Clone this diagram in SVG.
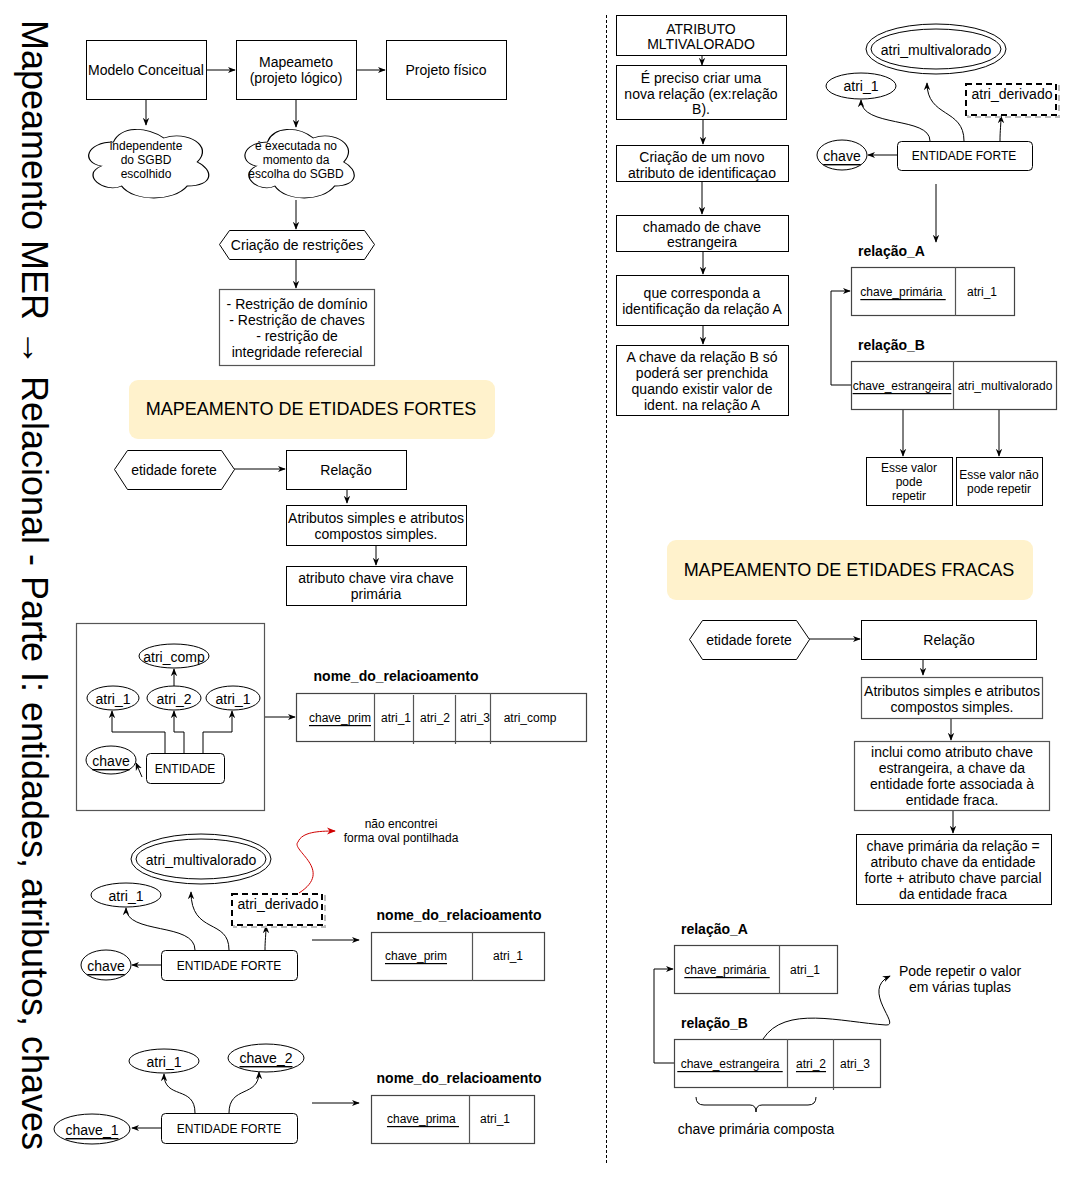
<svg xmlns="http://www.w3.org/2000/svg" width="1069" height="1177" viewBox="0 0 1069 1177">
  <style>
    text { font-family: "Liberation Sans", Arial, sans-serif; fill: #000; text-anchor: middle; dominant-baseline: central; }
    .t14 { font-size: 14px; }
    .t12 { font-size: 12px; }
    .t18 { font-size: 18px; }
    .b14 { font-size: 14px; font-weight: bold; }
    .left { text-anchor: start; }
    .u { text-decoration: underline; }
    .box { fill: #fff; stroke: #000; stroke-width: 1; }
    .gbox { fill: #fff; stroke: #555; stroke-width: 1.2; }
    .tbl { fill: #fff; stroke: #444; stroke-width: 1.2; }
    .div { stroke: #555; stroke-width: 1.2; }
    .ell { fill: #fff; stroke: #000; stroke-width: 1; }
    .banner { fill: #fff2cc; stroke: none; }
    .edge { fill: none; stroke: #000; stroke-width: 1; marker-end: url(#arr); }
    .line { fill: none; stroke: #000; stroke-width: 1; }
    .dash { fill: #fff; stroke: #000; stroke-width: 2; stroke-dasharray: 6 4; }
    .dashsh { fill: none; stroke: #bbb; stroke-width: 2; stroke-dasharray: 6 4; }
    .cloud { fill: #fff; stroke: #000; stroke-width: 1; }
  </style>
  <defs>
    <marker id="arr" viewBox="0 0 10 10" refX="9" refY="5" markerWidth="8" markerHeight="8" orient="auto" markerUnits="userSpaceOnUse">
      <path d="M0,1 L10,5 L0,9 L3,5 z" fill="#000"/>
    </marker>
    <marker id="arrRed" viewBox="0 0 10 10" refX="9" refY="5" markerWidth="9" markerHeight="9" orient="auto" markerUnits="userSpaceOnUse">
      <path d="M0,1 L10,5 L0,9 L3,5 z" fill="#d00000"/>
    </marker>
    <!-- unit cloud outline, scaled per node -->
    <path id="cloudShape" d="M0.25,0.25 C0.05,0.25 0,0.5 0.16,0.55 C0,0.66 0.18,0.9 0.31,0.8 C0.4,1 0.7,1 0.8,0.8 C1,0.8 1,0.6 0.875,0.5 C1,0.3 0.8,0.1 0.625,0.2 C0.5,0.05 0.3,0.05 0.25,0.25 Z"/>
  </defs>

  <!-- vertical title -->
  <text class="left" transform="translate(22,20) rotate(90)" x="0" y="0" style="font-size:36px;dominant-baseline:alphabetic" textLength="1130" lengthAdjust="spacing">Mapeamento MER → Relacional - Parte I: entidades, atributos, chaves</text>

  <!-- column separator -->
  <line x1="606.5" y1="15" x2="606.5" y2="1165" stroke="#000" stroke-width="1" stroke-dasharray="3 2"/>

  <!-- ===== connectors ===== -->
  <g id="connectors">
    <!-- top flow -->
    <path class="edge" d="M206,70 L235,70"/>
    <path class="edge" d="M356,70 L385,70"/>
    <path class="edge" d="M146,99 L146,125"/>
    <path class="edge" d="M296,99 L296,127"/>
    <path class="edge" d="M296,200 L296,229"/>
    <path class="edge" d="M296,259 L296,288"/>
    <!-- strong entity flow -->
    <path class="edge" d="M234,469 L285,469"/>
    <path class="edge" d="M347,489 L347,503"/>
    <path class="edge" d="M376,545 L376,565"/>
    <!-- ENTIDADE diagram -->
    <path class="edge" d="M165,753 L165,732 L112,732 L112,711"/>
    <path class="edge" d="M184,753 L184,732 L174,732 L174,711"/>
    <path class="edge" d="M203,753 L203,732 L232,732 L232,711"/>
    <path class="edge" d="M174,686 L174,669"/>
    <path class="edge" d="M142,777 L136,763"/>
    <path class="edge" d="M264,717 L295,717"/>
    <!-- multivalued / derived (left) -->
    <path class="edge" d="M195,950 C195,922 126,935 126,908"/>
    <path class="edge" d="M229,950 C229,918 191,935 191,892"/>
    <path class="edge" d="M265,950 C265,940 266,935 266,926"/>
    <path class="edge" d="M161,965 L132,965"/>
    <path class="edge" d="M312,940 L359,940"/>
    <path d="M299,893 C335,870 290,850 298,842 C302,832 318,831 335,831" fill="none" stroke="#d00000" stroke-width="1" marker-end="url(#arrRed)"/>
    <!-- composite key (left) -->
    <path class="edge" d="M195,1113 C195,1085 164,1100 164,1074"/>
    <path class="edge" d="M229,1113 C229,1085 259,1098 259,1072"/>
    <path class="edge" d="M161,1128 L132,1128"/>
    <path class="edge" d="M312,1103 L359,1103"/>
    <!-- multivalued flow (right) -->
    <path class="edge" d="M702,55 L702,65"/>
    <path class="edge" d="M703,119 L703,144"/>
    <path class="edge" d="M702,181 L702,214"/>
    <path class="edge" d="M703,251 L703,274"/>
    <path class="edge" d="M703,325 L703,344"/>
    <!-- ER top-right -->
    <path class="edge" d="M930,141 C930,116 861,128 861,100"/>
    <path class="edge" d="M964,141 C964,108 927,118 927,83"/>
    <path class="edge" d="M1000,141 C1000,130 1001,125 1001,116"/>
    <path class="edge" d="M897,155 L868,155"/>
    <path class="edge" d="M936,184 L936,242"/>
    <path class="edge" d="M851,385 L831,385 L831,291 L850,291"/>
    <path class="edge" d="M903,409 L903,456"/>
    <path class="edge" d="M999,409 L999,456"/>
    <!-- weak entity flow -->
    <path class="edge" d="M809,639 L860,639"/>
    <path class="edge" d="M923,659 L923,675"/>
    <path class="edge" d="M951,718 L951,740"/>
    <path class="edge" d="M953,810 L953,833"/>
    <!-- weak relations -->
    <path class="edge" d="M674,1063 L654,1063 L654,969 L673,969"/>
    <path class="edge" d="M763,1039 C785,1005 840,1022 886,1025 C902,1026 860,990 890,976"/>
  </g>

  <!-- ===== top flow nodes ===== -->
  <g id="modelo-conceitual">
    <rect class="box" x="86.5" y="40.5" width="120" height="59"/>
    <text class="t14" x="146" y="70">Modelo Conceitual</text>
  </g>
  <g id="mapeamento">
    <rect class="box" x="236.5" y="40.5" width="120" height="59"/>
    <text class="t14" x="296" y="62">Mapeameto</text>
    <text class="t14" x="296" y="78">(projeto lógico)</text>
  </g>
  <g id="projeto-fisico">
    <rect class="box" x="386.5" y="40.5" width="120" height="59"/>
    <text class="t14" x="446" y="70">Projeto físico</text>
  </g>
  <g id="cloud-independente">
    <use href="#cloudShape" class="cloud" transform="translate(80,122) scale(134,80)" vector-effect="non-scaling-stroke" style="stroke-width:0.0095"/>
    <text class="t12" x="146" y="146">independente</text>
    <text class="t12" x="146" y="160">do SGBD</text>
    <text class="t12" x="146" y="174">escolhido</text>
  </g>
  <g id="cloud-executada">
    <use href="#cloudShape" class="cloud" transform="translate(237,122) scale(122,80)" style="stroke-width:0.0095"/>
    <text class="t12" x="296" y="146">é executada no</text>
    <text class="t12" x="296" y="160">momento da</text>
    <text class="t12" x="296" y="174">escolha do SGBD</text>
  </g>
  <g id="criacao-restricoes">
    <polygon class="box" points="219.5,244.5 229.5,230.5 364.5,230.5 374.5,244.5 364.5,259.5 229.5,259.5"/>
    <text class="t14" x="297" y="245">Criação de restrições</text>
  </g>
  <g id="restricoes">
    <rect class="gbox" x="219.5" y="289.5" width="155" height="76"/>
    <text class="t14" x="297" y="304">- Restrição de domínio</text>
    <text class="t14" x="297" y="320">- Restrição de chaves</text>
    <text class="t14" x="297" y="336">- restrição de</text>
    <text class="t14" x="297" y="352">integridade referecial</text>
  </g>

  <!-- ===== strong entities ===== -->
  <g id="banner-fortes">
    <rect class="banner" x="129" y="380" width="366" height="59" rx="9"/>
    <text class="t18" x="311" y="409">MAPEAMENTO DE ETIDADES FORTES</text>
  </g>
  <g id="etidade-forete-1">
    <polygon class="box" points="114.5,469.5 127.5,450.5 221.5,450.5 234.5,469.5 221.5,489.5 127.5,489.5"/>
    <text class="t14" x="174" y="470">etidade forete</text>
  </g>
  <g id="relacao-1">
    <rect class="box" x="286.5" y="450.5" width="120" height="39"/>
    <text class="t14" x="346" y="470">Relação</text>
  </g>
  <g id="atributos-simples-1">
    <rect class="box" x="286.5" y="505.5" width="180" height="40"/>
    <text class="t14" x="376" y="518">Atributos simples e atributos</text>
    <text class="t14" x="376" y="534">compostos simples.</text>
  </g>
  <g id="chave-primaria-1">
    <rect class="box" x="286.5" y="566.5" width="180" height="39"/>
    <text class="t14" x="376" y="578">atributo chave vira chave</text>
    <text class="t14" x="376" y="594">primária</text>
  </g>

  <!-- ===== ENTIDADE example ===== -->
  <g id="entidade-container">
    <rect fill="none" stroke="#555" stroke-width="1.2" x="76.5" y="623.5" width="188" height="187"/>
  </g>
  <g id="atri-comp">
    <ellipse class="ell" cx="174" cy="656" rx="35" ry="12"/>
    <text class="t14" x="174" y="657">atri_comp</text>
  </g>
  <g id="atri-1-a">
    <ellipse class="ell" cx="113" cy="698" rx="26" ry="12"/>
    <text class="t14" x="113" y="699">atri_1</text>
  </g>
  <g id="atri-2-a">
    <ellipse class="ell" cx="174" cy="698" rx="27" ry="12"/>
    <text class="t14" x="174" y="699">atri_2</text>
  </g>
  <g id="atri-1-b">
    <ellipse class="ell" cx="233" cy="698" rx="27" ry="12"/>
    <text class="t14" x="233" y="699">atri_1</text>
  </g>
  <g id="chave-a">
    <ellipse class="ell" cx="111" cy="760" rx="25" ry="14"/>
    <text class="t14 u" x="111" y="761">chave</text>
  </g>
  <g id="entidade">
    <rect class="box" x="146.5" y="753.5" width="78" height="30" rx="4"/>
    <text class="t12" x="185" y="769">ENTIDADE</text>
  </g>
  <g id="tabela-1">
    <text class="b14" x="396" y="676">nome_do_relacioamento</text>
    <rect class="tbl" x="296.5" y="693.5" width="290" height="48"/>
    <line class="div" x1="374.5" y1="693" x2="374.5" y2="742"/>
    <line class="div" x1="413.5" y1="695" x2="413.5" y2="744"/>
    <line class="div" x1="455.5" y1="695" x2="455.5" y2="744"/>
    <line class="div" x1="490.5" y1="693" x2="490.5" y2="744"/>
    <text class="t12 u" x="340" y="718">chave_prim</text>
    <text class="t12" x="396" y="718">atri_1</text>
    <text class="t12" x="435" y="718">atri_2</text>
    <text class="t12" x="475" y="718">atri_3</text>
    <text class="t12" x="530" y="718">atri_comp</text>
  </g>

  <!-- ===== multivalued / derived example (left) ===== -->
  <g id="atri-multivalorado-l">
    <ellipse class="ell" cx="201" cy="859" rx="70" ry="25"/>
    <ellipse class="ell" cx="201" cy="859" rx="65" ry="20"/>
    <text class="t14" x="201" y="860">atri_multivalorado</text>
  </g>
  <g id="atri-1-l">
    <ellipse class="ell" cx="126" cy="895" rx="35" ry="12"/>
    <text class="t14" x="126" y="896">atri_1</text>
  </g>
  <g id="atri-derivado-l">
    <rect class="dashsh" x="234" y="896" width="91" height="31"/>
    <rect class="dash" x="232" y="894" width="90" height="31"/>
    <text class="t14" x="278" y="904">atri_derivado</text>
  </g>
  <g id="chave-l">
    <ellipse class="ell" cx="106" cy="965" rx="25" ry="15"/>
    <text class="t14 u" x="106" y="966">chave</text>
  </g>
  <g id="entidade-forte-l">
    <rect class="box" x="161.5" y="950.5" width="136" height="30" rx="4"/>
    <text class="t12" x="229" y="966">ENTIDADE FORTE</text>
  </g>
  <g id="nota-oval">
    <text class="t12" x="401" y="824">não encontrei</text>
    <text class="t12" x="401" y="838">forma oval pontilhada</text>
  </g>
  <g id="tabela-2">
    <text class="b14" x="459" y="915">nome_do_relacioamento</text>
    <rect class="tbl" x="371.5" y="932.5" width="173" height="48"/>
    <line class="div" x1="472.5" y1="932" x2="472.5" y2="981"/>
    <text class="t12 u" x="416" y="956">chave_prim</text>
    <text class="t12" x="508" y="956">atri_1</text>
  </g>

  <!-- ===== composite key example (left) ===== -->
  <g id="atri-1-c">
    <ellipse class="ell" cx="164" cy="1061" rx="35" ry="12"/>
    <text class="t14" x="164" y="1062">atri_1</text>
  </g>
  <g id="chave-2">
    <ellipse class="ell" cx="266" cy="1058" rx="38" ry="14"/>
    <text class="t14 u" x="266" y="1058">chave_2</text>
  </g>
  <g id="chave-1">
    <ellipse class="ell" cx="92" cy="1129" rx="38" ry="15"/>
    <text class="t14 u" x="92" y="1130">chave_1</text>
  </g>
  <g id="entidade-forte-c">
    <rect class="box" x="161.5" y="1113.5" width="136" height="30" rx="4"/>
    <text class="t12" x="229" y="1129">ENTIDADE FORTE</text>
  </g>
  <g id="tabela-3">
    <text class="b14" x="459" y="1078">nome_do_relacioamento</text>
    <rect class="tbl" x="371.5" y="1095.5" width="163" height="48"/>
    <line class="div" x1="469.5" y1="1095" x2="469.5" y2="1144"/>
    <text class="t12 u" x="423" y="1119" style="white-space:pre">chave_prima </text>
    <text class="t12" x="495" y="1119">atri_1</text>
  </g>

  <!-- ===== multivalued attribute flow (right) ===== -->
  <g id="atributo-mltivalorado">
    <rect class="box" x="616.5" y="15.5" width="170" height="40"/>
    <text class="t14" x="701" y="29">ATRIBUTO</text>
    <text class="t14" x="701" y="44">MLTIVALORADO</text>
  </g>
  <g id="criar-relacao">
    <rect class="box" x="616.5" y="65.5" width="170" height="54"/>
    <text class="t14" x="701" y="78">É preciso criar uma</text>
    <text class="t14" x="701" y="94">nova relação (ex:relação</text>
    <text class="t14" x="701" y="109">B).</text>
  </g>
  <g id="novo-atributo">
    <rect class="box" x="616.5" y="145.5" width="172" height="36"/>
    <text class="t14" x="702" y="157">Criação de um novo</text>
    <text class="t14" x="702" y="173">atributo de identificaçao</text>
  </g>
  <g id="chave-estrangeira">
    <rect class="box" x="616.5" y="215.5" width="172" height="36"/>
    <text class="t14" x="702" y="227">chamado de chave</text>
    <text class="t14" x="702" y="242">estrangeira</text>
  </g>
  <g id="corresponda">
    <rect class="box" x="616.5" y="275.5" width="172" height="50"/>
    <text class="t14" x="702" y="293">que corresponda a</text>
    <text class="t14" x="702" y="309">identificação da relação A</text>
  </g>
  <g id="chave-relacao-b">
    <rect class="box" x="616.5" y="345.5" width="172" height="70"/>
    <text class="t14" x="702" y="357">A chave da relação B só</text>
    <text class="t14" x="702" y="373">poderá ser prenchida</text>
    <text class="t14" x="702" y="389">quando existir valor de</text>
    <text class="t14" x="702" y="405">ident. na relação A</text>
  </g>

  <!-- ===== ER example (top right) ===== -->
  <g id="atri-multivalorado-r">
    <ellipse class="ell" cx="936" cy="49" rx="70" ry="25"/>
    <ellipse class="ell" cx="936" cy="49" rx="65" ry="20"/>
    <text class="t14" x="936" y="50">atri_multivalorado</text>
  </g>
  <g id="atri-1-r">
    <ellipse class="ell" cx="861" cy="86" rx="35" ry="13"/>
    <text class="t14" x="861" y="86">atri_1</text>
  </g>
  <g id="atri-derivado-r">
    <rect class="dashsh" x="968" y="86" width="91" height="31"/>
    <rect class="dash" x="966" y="84" width="90" height="31"/>
    <text class="t14" x="1012" y="94">atri_derivado</text>
  </g>
  <g id="chave-r">
    <ellipse class="ell" cx="842" cy="155" rx="25" ry="15"/>
    <text class="t14 u" x="842" y="156">chave</text>
  </g>
  <g id="entidade-forte-r">
    <rect class="box" x="897.5" y="141.5" width="135" height="29" rx="4"/>
    <text class="t12" x="964" y="156">ENTIDADE FORTE</text>
  </g>
  <g id="relacao-a-r">
    <text class="b14 left" x="858" y="251">relação_A</text>
    <rect class="tbl" x="851.5" y="267.5" width="163" height="48"/>
    <line class="div" x1="955.5" y1="267" x2="955.5" y2="316"/>
    <text class="t12 u" x="903" y="292" style="white-space:pre">chave_primária </text>
    <text class="t12" x="982" y="292">atri_1</text>
  </g>
  <g id="relacao-b-r">
    <text class="b14 left" x="858" y="345">relação_B</text>
    <rect class="tbl" x="851.5" y="361.5" width="205" height="48"/>
    <line class="div" x1="953.5" y1="361" x2="953.5" y2="410"/>
    <text class="t12 u" x="902" y="386">chave_estrangeira</text>
    <text class="t12" x="1005" y="386">atri_multivalorado</text>
  </g>
  <g id="pode-repetir">
    <rect class="box" x="866.5" y="457.5" width="86" height="48"/>
    <text class="t12" x="909" y="468">Esse valor</text>
    <text class="t12" x="909" y="482">pode</text>
    <text class="t12" x="909" y="496">repetir</text>
  </g>
  <g id="nao-pode-repetir">
    <rect class="box" x="956.5" y="457.5" width="86" height="48"/>
    <text class="t12" x="999" y="475">Esse valor não</text>
    <text class="t12" x="999" y="489">pode repetir</text>
  </g>

  <!-- ===== weak entities ===== -->
  <g id="banner-fracas">
    <rect class="banner" x="667" y="540" width="366" height="60" rx="9"/>
    <text class="t18" x="849" y="570">MAPEAMENTO DE ETIDADES FRACAS</text>
  </g>
  <g id="etidade-forete-2">
    <polygon class="box" points="689.5,639.5 702.5,620.5 796.5,620.5 809.5,639.5 796.5,659.5 702.5,659.5"/>
    <text class="t14" x="749" y="640">etidade forete</text>
  </g>
  <g id="relacao-2">
    <rect class="box" x="861.5" y="620.5" width="175" height="39"/>
    <text class="t14" x="949" y="640">Relação</text>
  </g>
  <g id="atributos-simples-2">
    <rect class="gbox" x="861.5" y="677.5" width="181" height="41"/>
    <text class="t14" x="952" y="691">Atributos simples e atributos</text>
    <text class="t14" x="952" y="707">compostos simples.</text>
  </g>
  <g id="inclui-chave">
    <rect class="gbox" x="854.5" y="741.5" width="195" height="69"/>
    <text class="t14" x="952" y="752">inclui como atributo chave</text>
    <text class="t14" x="952" y="768">estrangeira, a chave da</text>
    <text class="t14" x="952" y="784">entidade forte associada à</text>
    <text class="t14" x="952" y="800">entidade fraca.</text>
  </g>
  <g id="chave-primaria-relacao">
    <rect class="box" x="856.5" y="834.5" width="195" height="70"/>
    <text class="t14" x="953" y="846">chave primária da relação =</text>
    <text class="t14" x="953" y="862">atributo chave da entidade</text>
    <text class="t14" x="953" y="878">forte + atributo chave parcial</text>
    <text class="t14" x="953" y="894">da entidade fraca</text>
  </g>

  <!-- ===== weak relations (bottom right) ===== -->
  <g id="relacao-a-w">
    <text class="b14 left" x="681" y="929">relação_A</text>
    <rect class="tbl" x="674.5" y="945.5" width="163" height="48"/>
    <line class="div" x1="779.5" y1="945" x2="779.5" y2="994"/>
    <text class="t12 u" x="727" y="970" style="white-space:pre">chave_primária </text>
    <text class="t12" x="805" y="970">atri_1</text>
  </g>
  <g id="relacao-b-w">
    <text class="b14 left" x="681" y="1023">relação_B</text>
    <rect class="tbl" x="674.5" y="1039.5" width="206" height="48"/>
    <line class="div" x1="787.5" y1="1039" x2="787.5" y2="1088"/>
    <line class="div" x1="833.5" y1="1039" x2="833.5" y2="1090"/>
    <text class="t12 u" x="730" y="1064" style="white-space:pre"> chave_estrangeira </text>
    <text class="t12 u" x="811" y="1064">atri_2</text>
    <text class="t12" x="855" y="1064">atri_3</text>
  </g>
  <g id="nota-repetir">
    <text class="t14" x="960" y="971">Pode repetir o valor</text>
    <text class="t14" x="960" y="987">em várias tuplas</text>
  </g>
  <g id="chave-composta">
    <path class="line" d="M696,1097 Q696,1105 704,1105 L750,1105 Q756,1105 756,1112 Q756,1105 762,1105 L808,1105 Q816,1105 816,1097"/>
    <text class="t14" x="756" y="1129">chave primária composta</text>
  </g>
</svg>
